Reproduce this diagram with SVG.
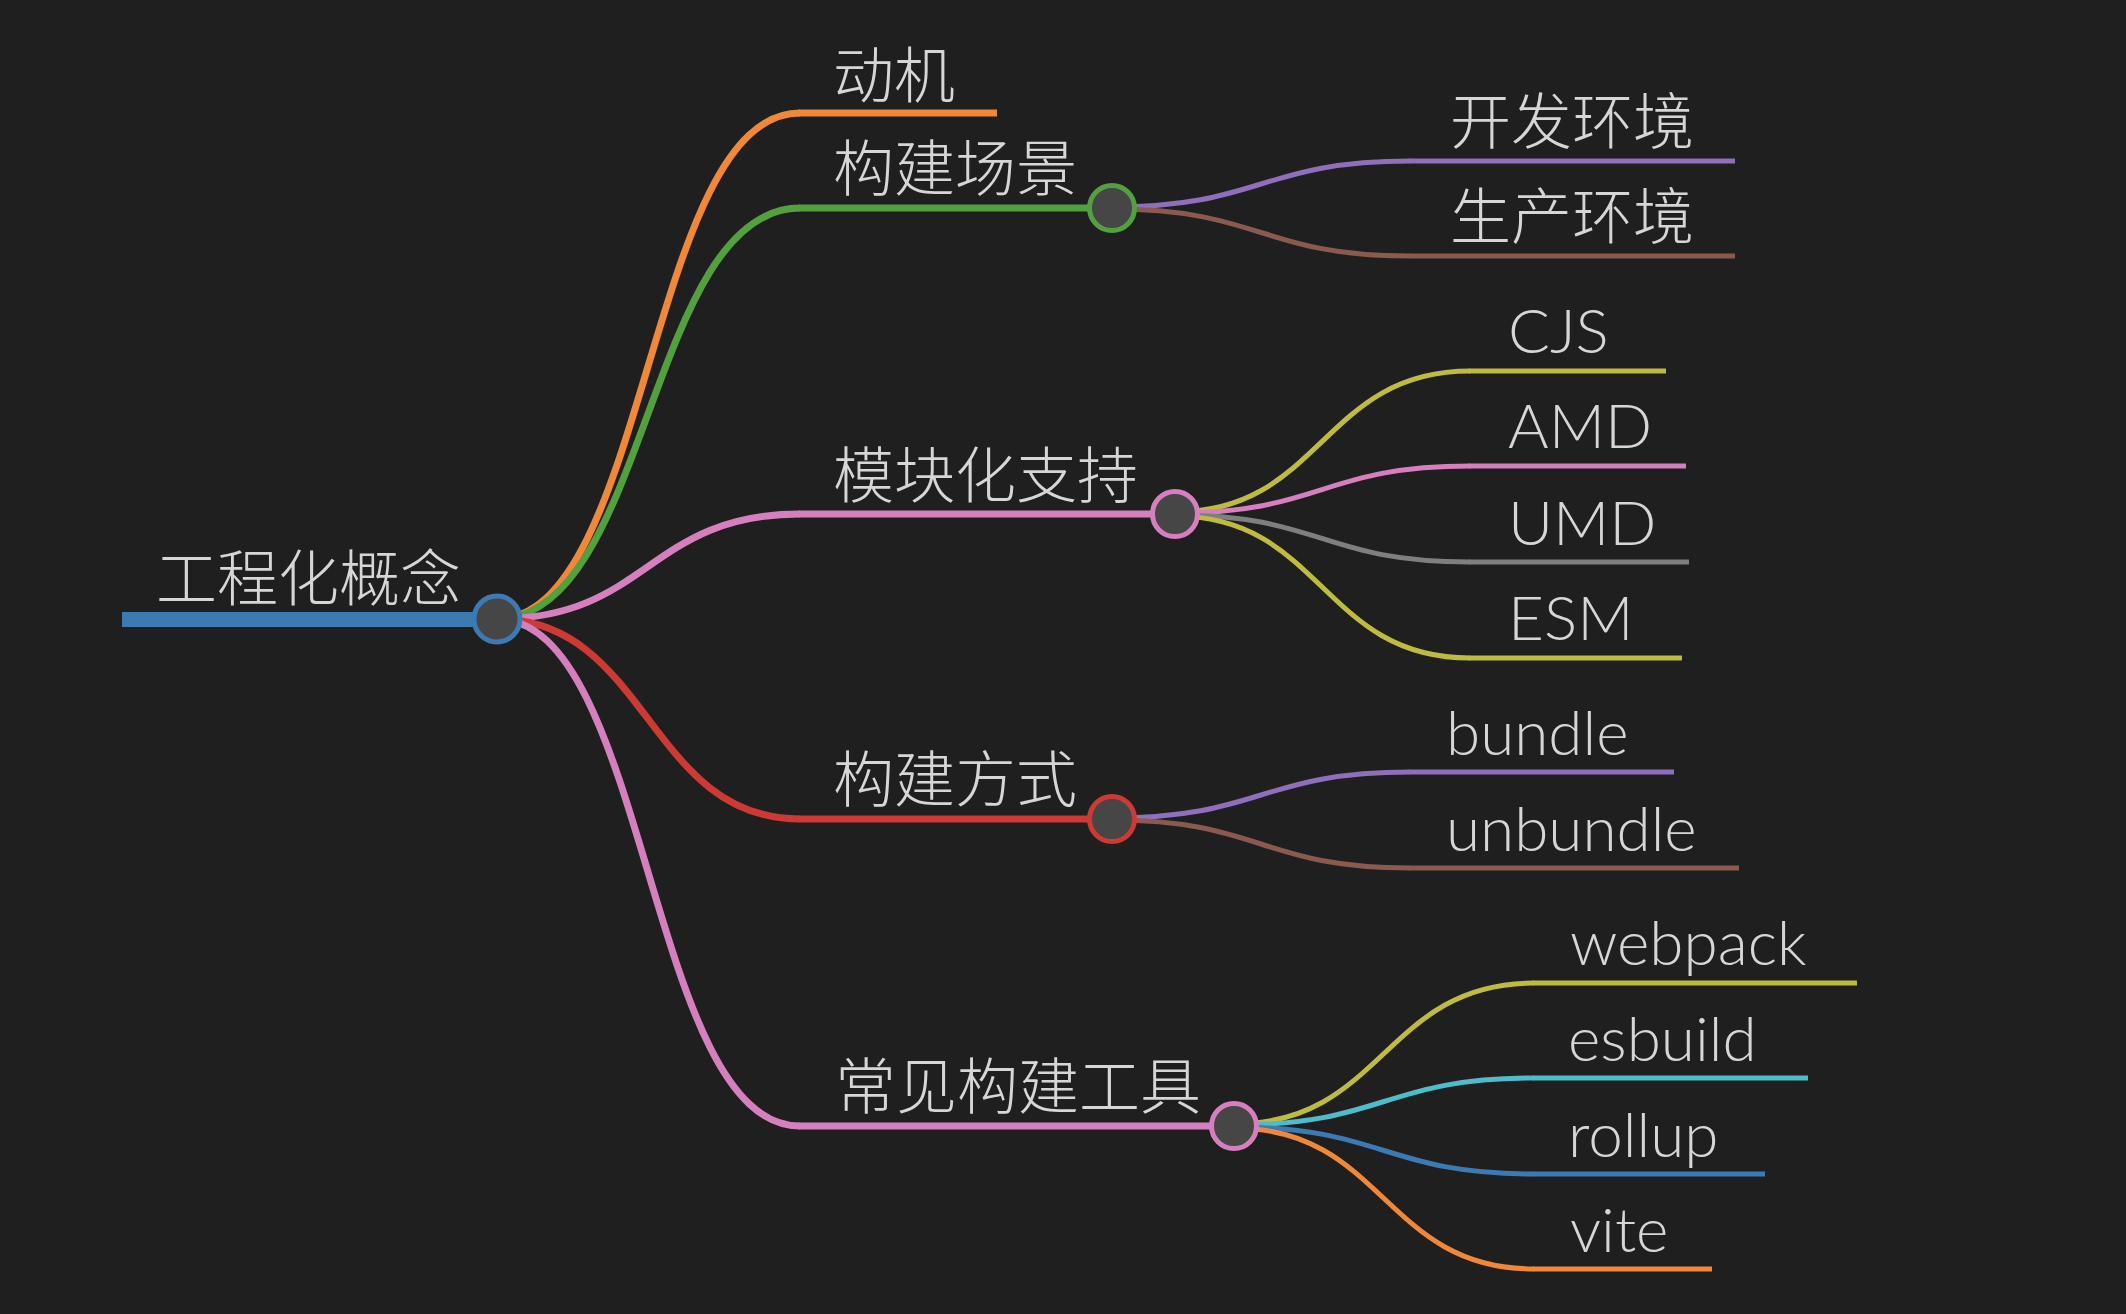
<svg xmlns="http://www.w3.org/2000/svg" width="2126" height="1314" viewBox="0 0 2126 1314">
  <style>
    .bg { fill: #1f1f1f; }
    .lbl { fill: #d6d6d6; font-size: 61px; font-family: "Noto Sans CJK SC", "Liberation Sans", sans-serif; font-weight: 300; }
    .lat { fill: #d6d6d6; font-size: 62px; font-family: "Lato", "Liberation Sans", sans-serif; font-weight: 300; }
    .l1 { fill: none; stroke-width: 7; stroke-linecap: butt; }
    .l2 { fill: none; stroke-width: 5; stroke-linecap: butt; }
    .dot { fill: #464646; stroke-width: 5; }
    .blue { stroke: #3b7ab2; }
    .orange { stroke: #f0883a; }
    .green { stroke: #52a03e; }
    .pink { stroke: #d57fbf; }
    .red { stroke: #cc3a33; }
    .purple { stroke: #8d6fbb; }
    .brown { stroke: #8a5a4f; }
    .olive { stroke: #bebc40; }
    .gray { stroke: #7f7f7f; }
    .cyan { stroke: #4fbccc; }
  </style>
  <rect class="bg" x="0" y="0" width="2126" height="1314"/>

  <g id="connectors">
    <!-- root to level 1 -->
    <path class="l1 orange" d="M497 619 C648 619 648 113 800 113"/>
    <path class="l1 green" d="M497 619 C648 619 648 208 800 208"/>
    <path class="l1 pink" d="M497 619 C648 619 648 514 800 514"/>
    <path class="l1 red" d="M497 619 C648 619 648 819 800 819"/>
    <path class="l1 pink" d="M497 619 C648 619 648 1126 800 1126"/>
    <!-- 构建场景 children -->
    <path class="l2 purple" d="M1112 207 C1261 207 1261 161 1410 161"/>
    <path class="l2 brown" d="M1112 209 C1261 209 1261 256 1410 256"/>
    <!-- 模块化支持 children -->
    <path class="l2 olive" d="M1175 512 C1322 512 1322 371 1470 371"/>
    <path class="l2 pink" d="M1175 513 C1322 513 1322 466 1470 466"/>
    <path class="l2 gray" d="M1175 515 C1322 515 1322 562 1470 562"/>
    <path class="l2 olive" d="M1175 516 C1322 516 1322 658 1470 658"/>
    <!-- 构建方式 children -->
    <path class="l2 purple" d="M1112 818 C1261 818 1261 772 1410 772"/>
    <path class="l2 brown" d="M1112 820 C1261 820 1261 868 1410 868"/>
    <!-- 常见构建工具 children -->
    <path class="l2 olive" d="M1234 1124 C1384 1124 1384 983 1534 983"/>
    <path class="l2 cyan" d="M1234 1125 C1384 1125 1384 1078 1534 1078"/>
    <path class="l2 blue" d="M1234 1127 C1384 1127 1384 1174 1534 1174"/>
    <path class="l2 orange" d="M1234 1128 C1384 1128 1384 1269 1534 1269"/>
  </g>

  <g id="node-root">
    <line x1="122" y1="619.5" x2="497" y2="619.5" stroke="#3b7ab2" stroke-width="15"/>
    <text class="lbl" x="156" y="601">工程化概念</text>
    <circle class="dot blue" cx="497" cy="619" r="23"/>
  </g>

  <g id="node-dongji">
    <line class="l1 orange" x1="799" y1="113" x2="997" y2="113"/>
    <text class="lbl" x="833" y="98">动机</text>
  </g>

  <g id="node-goujianchangjing">
    <line class="l1 green" x1="799" y1="208" x2="1112" y2="208"/>
    <text class="lbl" x="833" y="191">构建场景</text>
    <circle class="dot green" cx="1112" cy="208" r="22.5"/>
  </g>

  <g id="node-kaifahuanjing">
    <line class="l2 purple" x1="1409" y1="161" x2="1735" y2="161"/>
    <text class="lbl" x="1450" y="144">开发环境</text>
  </g>

  <g id="node-shengchanhuanjing">
    <line class="l2 brown" x1="1409" y1="256" x2="1735" y2="256"/>
    <text class="lbl" x="1450" y="239">生产环境</text>
  </g>

  <g id="node-mokuaihua">
    <line class="l1 pink" x1="799" y1="514" x2="1175" y2="514"/>
    <text class="lbl" x="833" y="498">模块化支持</text>
    <circle class="dot pink" cx="1175" cy="514" r="22.5"/>
  </g>

  <g id="node-cjs">
    <line class="l2 olive" x1="1469" y1="371" x2="1666" y2="371"/>
    <text class="lat" x="1508" y="353">CJS</text>
  </g>

  <g id="node-amd">
    <line class="l2 pink" x1="1469" y1="466" x2="1686" y2="466"/>
    <text class="lat" x="1508" y="448">AMD</text>
  </g>

  <g id="node-umd">
    <line class="l2 gray" x1="1469" y1="562" x2="1689" y2="562"/>
    <text class="lat" x="1508" y="545">UMD</text>
  </g>

  <g id="node-esm">
    <line class="l2 olive" x1="1469" y1="658" x2="1682" y2="658"/>
    <text class="lat" x="1508" y="640">ESM</text>
  </g>

  <g id="node-goujianfangshi">
    <line class="l1 red" x1="799" y1="819" x2="1112" y2="819"/>
    <text class="lbl" x="833" y="802">构建方式</text>
    <circle class="dot red" cx="1112" cy="819" r="22.5"/>
  </g>

  <g id="node-bundle">
    <line class="l2 purple" x1="1409" y1="772" x2="1674" y2="772"/>
    <text class="lat" x="1446" y="755">bundle</text>
  </g>

  <g id="node-unbundle">
    <line class="l2 brown" x1="1409" y1="868" x2="1739" y2="868"/>
    <text class="lat" x="1446" y="851">unbundle</text>
  </g>

  <g id="node-changjian">
    <line class="l1 pink" x1="799" y1="1126" x2="1234" y2="1126"/>
    <text class="lbl" x="835" y="1109">常见构建工具</text>
    <circle class="dot pink" cx="1234" cy="1126" r="22.5"/>
  </g>

  <g id="node-webpack">
    <line class="l2 olive" x1="1533" y1="983" x2="1857" y2="983"/>
    <text class="lat" x="1570" y="965">webpack</text>
  </g>

  <g id="node-esbuild">
    <line class="l2 cyan" x1="1533" y1="1078" x2="1808" y2="1078"/>
    <text class="lat" x="1568" y="1061">esbuild</text>
  </g>

  <g id="node-rollup">
    <line class="l2 blue" x1="1533" y1="1174" x2="1765" y2="1174"/>
    <text class="lat" x="1568" y="1157">rollup</text>
  </g>

  <g id="node-vite">
    <line class="l2 orange" x1="1533" y1="1269" x2="1712" y2="1269"/>
    <text class="lat" x="1570" y="1252">vite</text>
  </g>
</svg>
